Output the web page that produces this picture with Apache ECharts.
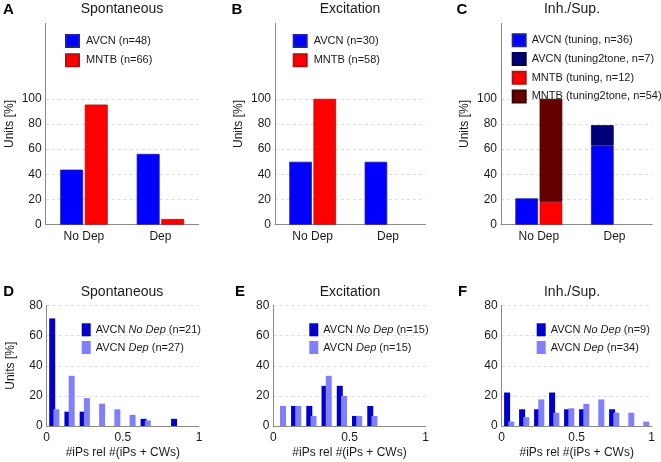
<!DOCTYPE html>
<html><head><meta charset="utf-8">
<script src="https://cdn.jsdelivr.net/npm/echarts@6/dist/echarts.min.js"></script>
<style>html,body{margin:0;padding:0;background:#fff}#c{width:661px;height:462px}</style>
</head><body><div id="c"></div>
<script>
// ---------- data ----------
const topCategories = ['No Dep', 'Dep'];
const topMaxLabel = 100;
// Panel A – Spontaneous
const aAvcnName = 'AVCN (n=48)';
const aMntbName = 'MNTB (n=66)';
const aAvcn = [43.75, 56.25];
const aMntb = [95.45, 4.55];
// Panel B – Excitation
const bAvcnName = 'AVCN (n=30)';
const bMntbName = 'MNTB (n=58)';
const bAvcn = [50, 50];
const bMntb = [100, 0];
// Panel C – Inh./Sup.
const cNames = ['AVCN (tuning, n=36)', 'AVCN (tuning2tone, n=7)', 'MNTB (tuning, n=12)', 'MNTB (tuning2tone, n=54)'];
const cAvcnTuning = [20.93, 62.79];
const cAvcnTuning2tone = [0, 16.28];
const cMntbTuning = [18.18, 0];
const cMntbTuning2tone = [81.82, 0];
// Histograms
const binCenters = [0.05, 0.15, 0.25, 0.35, 0.45, 0.55, 0.65, 0.75, 0.85, 0.95];
const dNames = ['AVCN No Dep (n=21)', 'AVCN Dep (n=27)'];
const dNoDep = [71.43, 9.52, 9.52, 0, 0, 0, 4.76, 0, 4.76, 0];
const dDep = [11.11, 33.33, 18.52, 14.81, 11.11, 7.41, 3.70, 0, 0, 0];
const eNames = ['AVCN No Dep (n=15)', 'AVCN Dep (n=15)'];
const eNoDep = [0, 13.33, 13.33, 26.67, 26.67, 6.67, 13.33, 0, 0, 0];
const eDep = [13.33, 13.33, 6.67, 33.33, 20.00, 6.67, 6.67, 0, 0, 0];
const fNames = ['AVCN No Dep (n=9)', 'AVCN Dep (n=34)'];
const fNoDep = [22.22, 11.11, 11.11, 22.22, 11.11, 11.11, 0, 11.11, 0, 0];
const fDep = [2.94, 5.88, 17.65, 8.82, 11.76, 14.71, 17.65, 8.82, 8.82, 2.94];
const titles = ['Spontaneous', 'Excitation', 'Inh./Sup.'];
const letters = ['A', 'B', 'C', 'D', 'E', 'F'];
const yName = 'Units [%]';
const xName = '#iPs rel #(iPs + CWs)';

// ---------- styles ----------
const FONT = '"Liberation Sans", Arial, Helvetica, sans-serif';
const TXT = '#1a1a1a';
const AX = '#8a8a8a';
const GRID = '#dcdcdc';
const BLUE = '#0000ff', RED = '#ff0000', NAVY = '#000078', DRED = '#640000';
const DARK = '#0000c8', LIGHT = '#8080ff';

const topGrids = [
  {left: 45.7, top: 23.3, width: 153, height: 201.4},
  {left: 275, top: 23.3, width: 150.7, height: 201.4},
  {left: 501, top: 23.3, width: 151.3, height: 201.4}
];
const botGrids = [
  {left: 46.7, top: 305.5, width: 152.3, height: 120.5},
  {left: 273.3, top: 305.5, width: 152.4, height: 120.5},
  {left: 501.7, top: 305.5, width: 150, height: 120.5}
];
const grids = topGrids.concat(botGrids);

const nz = a => a.map(v => (v === 0 ? null : v));
const xAxes = [], yAxes = [];
for (let i = 0; i < 3; i++) {
  xAxes.push({
    type: 'category', gridIndex: i, data: topCategories,
    axisLine: {lineStyle: {color: AX, width: 1}}, axisTick: {show: false},
    axisLabel: {fontSize: 12, color: TXT, margin: 6, fontFamily: FONT}
  });
  yAxes.push({
    type: 'value', gridIndex: i, min: 0, max: 160, interval: 20,
    axisLine: {show: true, lineStyle: {color: AX, width: 1}}, axisTick: {show: false},
    axisLabel: {fontSize: 12, color: TXT, margin: 4, fontFamily: FONT,
      formatter: v => (v <= topMaxLabel ? String(v) : '')},
    splitLine: {show: true, lineStyle: {type: [3, 3], width: 1,
      color: [GRID, GRID, GRID, GRID, GRID, GRID, 'rgba(0,0,0,0)', 'rgba(0,0,0,0)', 'rgba(0,0,0,0)']}},
    name: yName, nameLocation: 'middle', nameGap: 30,
    nameTextStyle: {fontSize: 12, color: TXT, fontFamily: FONT}
  });
}
for (let i = 0; i < 3; i++) {
  xAxes.push({
    type: 'value', gridIndex: 3 + i, min: 0, max: 1, interval: 0.5,
    axisLine: {show: true, lineStyle: {color: AX, width: 1}}, axisTick: {show: false},
    splitLine: {show: false},
    axisLabel: {fontSize: 12, color: TXT, margin: 6, fontFamily: FONT},
    name: xName, nameLocation: 'middle', nameGap: 21,
    nameTextStyle: {fontSize: 12, color: TXT, fontFamily: FONT}
  });
  yAxes.push({
    type: 'value', gridIndex: 3 + i, min: 0, max: 80, interval: 20,
    axisLine: {show: true, lineStyle: {color: AX, width: 1}}, axisTick: {show: false},
    axisLabel: {fontSize: 12, color: TXT, margin: 4, fontFamily: FONT},
    splitLine: {show: true, lineStyle: {type: [3, 3], width: 1, color: GRID}},
    name: i === 0 ? yName : '', nameLocation: 'middle', nameGap: 30,
    nameTextStyle: {fontSize: 12, color: TXT, fontFamily: FONT}
  });
}

function topBar(name, idx, data, color, border, stack) {
  return {type: 'bar', name, xAxisIndex: idx, yAxisIndex: idx, data: nz(data),
    barWidth: '30%', barGap: '7%', stack,
    itemStyle: {color, borderColor: border, borderWidth: 0.8}, silent: true};
}
function histBar(name, idx, vals, color) {
  return {type: 'bar', name, xAxisIndex: idx, yAxisIndex: idx,
    data: binCenters.map((x, k) => [x, vals[k] === 0 ? null : vals[k]]),
    barWidth: 6, barGap: '-30%', itemStyle: {color}, silent: true};
}
const series = [
  topBar(aAvcnName, 0, aAvcn, BLUE, '#2020a0'),
  topBar(aMntbName, 0, aMntb, RED, '#b01010'),
  topBar(bAvcnName, 1, bAvcn, BLUE, '#2020a0'),
  topBar(bMntbName, 1, bMntb, RED, '#b01010'),
  topBar(cNames[0], 2, cAvcnTuning, BLUE, '#2020a0', 'avcn'),
  topBar(cNames[1], 2, cAvcnTuning2tone, NAVY, '#000050', 'avcn'),
  topBar(cNames[2], 2, cMntbTuning, RED, '#b01010', 'mntb'),
  topBar(cNames[3], 2, cMntbTuning2tone, DRED, '#400000', 'mntb'),
  histBar(dNames[0], 3, dNoDep, DARK),
  histBar(dNames[1], 3, dDep, LIGHT),
  histBar(eNames[0], 4, eNoDep, DARK),
  histBar(eNames[1], 4, eDep, LIGHT),
  histBar(fNames[0], 5, fNoDep, DARK),
  histBar(fNames[1], 5, fDep, LIGHT)
];

function topLegend(left, top, data, gap, tgap) {
  return {left, top, orient: 'vertical', padding: 0, itemWidth: 13, itemHeight: 12,
    itemGap: gap, data, icon: 'rect', selectedMode: false,
    textStyle: {fontSize: 11, color: TXT, fontFamily: FONT, padding: [0, 0, 0, tgap]}};
}
function botLegend(left, data) {
  return {left, top: 323.3, orient: 'vertical', padding: 0, itemWidth: 9, itemHeight: 13,
    itemGap: 4.7, data, icon: 'rect', selectedMode: false,
    formatter: n => n.replace(/(No Dep|Dep)/, '{i|$1}'),
    textStyle: {fontSize: 11, color: TXT, fontFamily: FONT, padding: [0, 0, 0, 0],
      rich: {i: {fontStyle: 'italic', fontSize: 11, color: TXT, fontFamily: FONT}}}};
}
const legends = [
  topLegend(65, 34, [aAvcnName, aMntbName], 5.3, 2),
  topLegend(292.7, 34, [bAvcnName, bMntbName], 5.3, 2),
  topLegend(511.7, 33.3, cNames, 4.7, 1),
  botLegend(81.7, dNames),
  botLegend(309.3, eNames),
  botLegend(536.7, fNames)
];

const titlePos = [[122, 9], [350, 9], [572, 9], [122, 292], [350, 292], [572, 292]];
const letterPos = [[3, 10], [231.5, 10], [456.5, 10], [3.3, 292], [235, 292], [458, 292]];
const graphics = [];
for (let i = 0; i < 6; i++) {
  graphics.push({type: 'text', x: titlePos[i][0], y: titlePos[i][1], silent: true,
    style: {text: titles[i % 3], fontSize: 14, fontFamily: FONT, fill: TXT,
      textAlign: 'center', textVerticalAlign: 'middle'}});
  graphics.push({type: 'text', x: letterPos[i][0], y: letterPos[i][1], silent: true,
    style: {text: letters[i], fontSize: 15, fontWeight: 'bold', fontFamily: FONT, fill: '#000',
      textAlign: 'left', textVerticalAlign: 'middle'}});
}

const chart = echarts.init(document.getElementById('c'), null, {renderer: 'canvas'});
chart.setOption({
  animation: false,
  backgroundColor: '#fff',
  textStyle: {fontFamily: FONT},
  grid: grids,
  xAxis: xAxes,
  yAxis: yAxes,
  legend: legends,
  series,
  graphic: graphics
});
</script></body></html>
